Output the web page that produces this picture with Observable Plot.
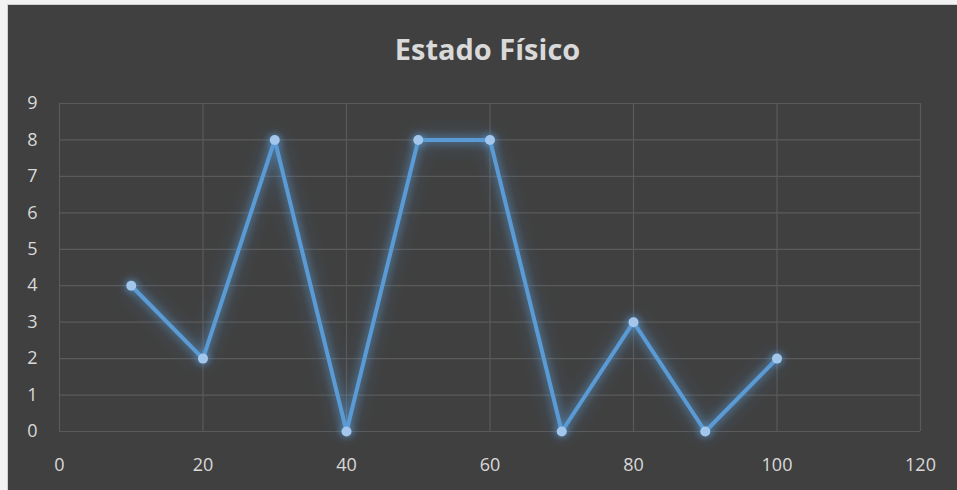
<!DOCTYPE html>
<html>
<head>
<meta charset="utf-8">
<script src="https://cdn.jsdelivr.net/npm/d3@7"></script>
<script src="https://cdn.jsdelivr.net/npm/@observablehq/plot@0.6"></script>
<style>
  html, body { margin: 0; padding: 0; background: #f2f2f2; width: 957px; height: 490px; overflow: hidden; }
  #frame { position: absolute; left: 7px; top: 4px; width: 950px; height: 486px; background: #404040; border-left: 1px solid #d0d0d0; border-top: 1px solid #d0d0d0; box-sizing: border-box; }
  #title { position: absolute; left: 0; top: 29px; width: 975px; text-align: center; font-family: "Open Sans", sans-serif; font-weight: bold; font-size: 29px; line-height: 40px; color: #d9d9d9; }
  #chart { position: absolute; left: 0; top: 80px; }
  #chart svg g[aria-label="line"] { filter: drop-shadow(0 0 4px rgba(91,155,213,0.8)) drop-shadow(0 0 9px rgba(91,155,213,0.45)); }
  #chart svg g[aria-label="dot"] { filter: drop-shadow(0 0 4px rgba(91,155,213,0.9)); }
</style>
</head>
<body>
<div id="frame"></div>
<div id="title">Estado Físico</div>
<div id="chart"></div>
<script>
const xValues = [10, 20, 30, 40, 50, 60, 70, 80, 90, 100];
const yValues = [4, 2, 8, 0, 8, 8, 0, 3, 0, 2];
const xTicks = [0, 20, 40, 60, 80, 100, 120];
const yTicks = [0, 1, 2, 3, 4, 5, 6, 7, 8, 9];

const data = xValues.map((x, i) => ({x, y: yValues[i]}));

const plot = Plot.plot({
  width: 957,
  height: 410,
  marginTop: 23,
  marginBottom: 59,
  marginLeft: 59,
  marginRight: 37,
  style: { background: "transparent", color: "#d9d9d9", fontFamily: "'Open Sans', sans-serif" },
  x: { domain: [0, 120], label: null },
  y: { domain: [0, 9], label: null },
  marks: [
    Plot.ruleX(xTicks, { x: d => d, stroke: "#5a5a5a", strokeWidth: 1.2 }),
    Plot.ruleY(yTicks, { y: d => d, stroke: "#5a5a5a", strokeWidth: 1.2 }),
    Plot.axisX(xTicks, { tickSize: 0, tickPadding: 27, fontSize: 18, fill: "#d9d9d9", tickFormat: d => String(d), label: null }),
    Plot.axisY(yTicks, { tickSize: 0, tickPadding: 22, fontSize: 18, fill: "#d9d9d9", tickFormat: d => String(d), label: null }),
    Plot.line(data, { x: "x", y: "y", stroke: "#5b9bd5", strokeWidth: 4, strokeLinejoin: "miter" }),
    Plot.dot(data, { x: "x", y: "y", r: 5, fill: "#a3c6ec", stroke: "none" })
  ]
});
document.getElementById("chart").appendChild(plot);
</script>
</body>
</html>
